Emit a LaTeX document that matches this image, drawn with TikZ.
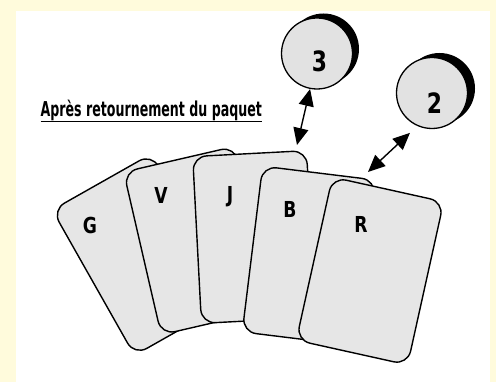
\documentclass[tikz,border=0pt]{standalone}
\usepackage{fontspec}
\setmainfont{DejaVu Sans}
\newfontfamily\handtitle[FakeStretch=0.615]{DejaVu Sans}
\newfontfamily\handletter[FakeStretch=0.78]{DejaVu Sans}
\usetikzlibrary{arrows.meta}
\definecolor{bgyellow}{HTML}{FFFBDC}
\definecolor{cardgray}{HTML}{E6E6E6}
\definecolor{ballgray}{HTML}{E2E2E2}
\begin{document}
\begin{tikzpicture}[x=1pt,y=-1pt,
  card/.style={draw=black, line width=1.4pt, fill=cardgray, rounded corners=14pt,
    minimum width=114pt, minimum height=167pt, inner sep=0pt},
  letter/.style={font=\handletter\bfseries\fontsize{22}{22}\selectfont, inner sep=0pt},
  num/.style={font=\handletter\bfseries\fontsize{28}{28}\selectfont, inner sep=0pt},
  ball/.style={circle, draw=black, line width=1.3pt, fill=ballgray, minimum size=71pt, inner sep=0pt},
  ballshade/.style={circle, fill=black, minimum size=71pt, inner sep=0pt},
  dbl/.style={{Triangle[length=17pt,width=15pt]}-{Triangle[length=17pt,width=15pt]}, line width=1.4pt},
]
\useasboundingbox (0,0) rectangle (496,382);
\fill[bgyellow] (0,0) rectangle (496,382);
\fill[white] (16,11) rectangle (490,382);

% title
\node[font=\handtitle\bfseries\fontsize{20.5}{20.5}\selectfont, anchor=base west, inner sep=0pt]
  (title) at (40.5,116.5) {Après retournement du paquet};
\draw[line width=1.6pt] ([yshift=-5pt]title.base west) -- ([yshift=-5pt]title.base east);

% cards
\node[card, rotate=29.5] (cG) at (143,254.6) {};
\node[letter] (lG) at (90,225) {G};
\node[card, rotate=13] (cV) at (198,240.6) {};
\node[letter] (lV) at (161,195) {V};
\node[card, rotate=3] (cJ) at (254,237) {};
\node[letter] (lJ) at (230,197) {J};
\node[card, rotate=-7] (cB) at (309,256) {};
\node[letter] (lB) at (290,209) {B};
\node[card, rotate=-12.5] (cR) at (370,271) {};
\node[letter] (lR) at (361,224.5) {R};

% balls
\node[ballshade] (s3) at (323.5,49) {};
\node[ball] (c3) at (317,53.5) {};
\node[num] (n3) at (319.5,61) {3};
\node[ballshade] (s2) at (439.5,88.5) {};
\node[ball] (c2) at (432,93) {};
\node[num] (n2) at (434.5,103) {2};

% arrows
\coordinate (t1) at (297,145);
\coordinate (t2) at (368,172);
\draw[dbl] (c3.259) -- (t1);
\draw[dbl, shorten <=10pt] (c2.246) -- (t2);
\end{tikzpicture}
\end{document}
